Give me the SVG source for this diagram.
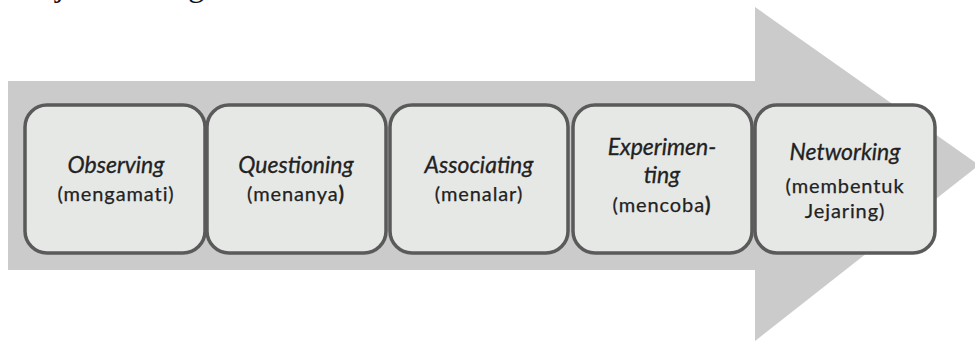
<svg xmlns="http://www.w3.org/2000/svg" width="975" height="341" viewBox="0 0 975 341">
  <style>
    .step { fill: #e6e8e6; stroke: #5a5a5a; stroke-width: 3.5; }
    .title { font-family: Lato, "Liberation Sans", sans-serif; font-style: italic; font-size: 23px; fill: #222; text-anchor: middle; stroke: #222; stroke-width: 0.3; }
    .sub { font-family: Lato, "Liberation Sans", sans-serif; font-size: 20px; fill: #222; text-anchor: middle; letter-spacing: 0.9px; stroke: #222; stroke-width: 0.25; }
    .heavy { font-weight: bold; }
    .body { font-family: "Liberation Serif", serif; font-size: 33px; fill: #111; }
  </style>

  <rect width="975" height="341" fill="#ffffff"/>

  <!-- running text above the figure, cut off by the top edge -->
  <text class="body" x="2" y="-4">disajikan sebagai berikut:</text>

  <!-- large process arrow behind the steps -->
  <g id="arrow">
    <rect x="8" y="81" width="752" height="189" fill="#cbcbcb"/>
    <polygon points="755,7 979,165 755,341" fill="#cbcbcb"/>
  </g>

  <g id="connectors"></g>

  <g id="observing">
    <rect class="step" x="25" y="105" width="180" height="148" rx="22"/>
    <text class="title" x="116" y="173">Observing</text>
    <text class="sub" x="116" y="201">(mengamati)</text>
  </g>

  <g id="questioning">
    <rect class="step" x="207" y="105" width="179" height="148" rx="22"/>
    <text class="title" x="296" y="173">Questioning</text>
    <text class="sub" x="296" y="201">(menanya<tspan class="heavy">)</tspan></text>
  </g>

  <g id="associating">
    <rect class="step" x="390" y="105" width="178" height="148" rx="22"/>
    <text class="title" x="479" y="173">Associating</text>
    <text class="sub" x="479" y="201">(menalar)</text>
  </g>

  <g id="experimenting">
    <rect class="step" x="573" y="105" width="179" height="148" rx="22"/>
    <text class="title" x="662" y="155">Experimen-</text>
    <text class="title" x="662" y="183">ting</text>
    <text class="sub" x="662" y="212">(mencoba<tspan class="heavy">)</tspan></text>
  </g>

  <g id="networking">
    <rect class="step" x="755" y="105" width="180" height="148" rx="22"/>
    <text class="title" x="845" y="160">Networking</text>
    <text class="sub" x="845" y="193">(membentuk</text>
    <text class="sub" x="845" y="218">Jejaring)</text>
  </g>
</svg>
